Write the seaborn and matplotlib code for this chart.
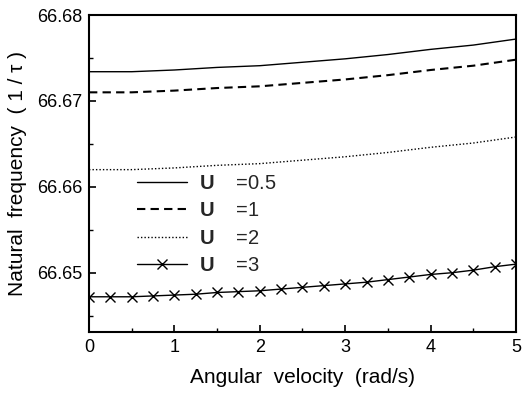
import numpy as np
import pandas as pd
import matplotlib
matplotlib.use("Agg")
import matplotlib.pyplot as plt
import seaborn as sns
from matplotlib.ticker import MultipleLocator, FormatStrFormatter

sns.set_theme(style="ticks")
plt.rcParams['font.family'] = ['Liberation Sans', 'DejaVu Sans']
plt.rcParams['mathtext.fontset'] = 'custom'
plt.rcParams['mathtext.bf'] = 'Liberation Sans:bold'
plt.rcParams['mathtext.rm'] = 'Liberation Sans'

# data
x_half = [0, 0.5, 1, 1.5, 2, 2.5, 3, 3.5, 4, 4.5, 5]
u05 = [66.6734, 66.6734, 66.6736, 66.6739, 66.6741, 66.6745, 66.6749, 66.6754, 66.6760, 66.6765, 66.6772]
u1 = [66.6710, 66.6710, 66.6712, 66.6715, 66.6717, 66.6721, 66.6725, 66.6730, 66.6736, 66.6741, 66.6748]
u2 = [66.6620, 66.6620, 66.6622, 66.6625, 66.6627, 66.6631, 66.6635, 66.6640, 66.6646, 66.6651, 66.6658]
x_q = [0, 0.25, 0.5, 0.75, 1, 1.25, 1.5, 1.75, 2, 2.25, 2.5, 2.75, 3, 3.25, 3.5,
       3.75, 4, 4.25, 4.5, 4.75, 5]
u3 = [66.6472, 66.6472, 66.6472, 66.6473, 66.6474, 66.6475, 66.6477, 66.6478, 66.6479,
      66.6481, 66.6483, 66.6485, 66.6487, 66.6489, 66.6492, 66.6495, 66.6498, 66.6500,
      66.6503, 66.6507, 66.6510]
labels = [r"$\mathbf{U}$    =0.5", r"$\mathbf{U}$    =1", r"$\mathbf{U}$    =2", r"$\mathbf{U}$    =3"]

fig = plt.figure(figsize=(5.22, 3.93), dpi=100)
ax = fig.add_axes([0.1705, 0.1552, 0.818, 0.8066])

sns.lineplot(x=x_half, y=u05, ax=ax, color='black', lw=1.0, label=labels[0])
sns.lineplot(x=x_half, y=u1, ax=ax, color='black', lw=1.5, linestyle=(0, (4, 2.5)), label=labels[1])
sns.lineplot(x=x_half, y=u2, ax=ax, color='black', lw=1.0, linestyle=(0, (1, 1.5)), label=labels[2])
sns.lineplot(x=x_q, y=u3, ax=ax, color='black', lw=1.0, linestyle='-', marker='x', markersize=6.5,
             markeredgewidth=1.0, markeredgecolor='black', markerfacecolor='black', label=labels[3])

ax.set_xlim(0, 5)
ax.set_ylim(66.6431, 66.68)
ax.xaxis.set_major_locator(MultipleLocator(1))
ax.xaxis.set_minor_locator(MultipleLocator(0.5))
ax.yaxis.set_major_locator(MultipleLocator(0.01))
ax.yaxis.set_minor_locator(MultipleLocator(0.005))
ax.yaxis.set_major_formatter(FormatStrFormatter('%.2f'))
ax.tick_params(which='both', direction='in', top=False, right=False, labelsize=13,
               color='black', labelcolor='black')
ax.tick_params(which='major', length=5, width=1.2, pad=5)
ax.tick_params(which='minor', length=3, width=1.0)
for s in ax.spines.values():
    s.set_visible(True)
    s.set_linewidth(1.5)
    s.set_color('black')

ax.set_xlabel("Angular  velocity  (rad/s)", fontsize=15, labelpad=9, color='black')
ax.set_ylabel("Natural  frequency  ( 1 / τ )", fontsize=15, labelpad=7, color='black')

leg = ax.legend(loc='upper left', bbox_to_anchor=(0.07, 0.556), frameon=False, fontsize=14.5,
                handlelength=2.5, handletextpad=0.6, labelspacing=0.42)

fig.savefig("out.png", dpi=100)
